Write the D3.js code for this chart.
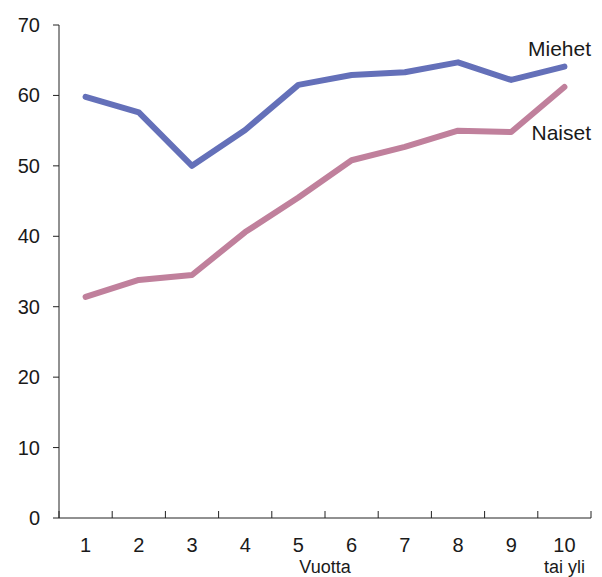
<!DOCTYPE html>
<html>
<head>
<meta charset="utf-8">
<script src="https://cdn.jsdelivr.net/npm/d3@7"></script>
<style>
  body { margin: 0; background: #fff; }
  text { font-family: "Liberation Sans", Arial, sans-serif; fill: #1a1a1a; }
</style>
</head>
<body>
<div id="chart"></div>
<script>
// Years 1..10 (10 = "10 tai yli")
const years = ['1', '2', '3', '4', '5', '6', '7', '8', '9', '10'];
const miehet = [59.8, 57.6, 50.0, 55.1, 61.5, 62.9, 63.3, 64.7, 62.2, 64.1];
const naiset = [31.4, 33.8, 34.5, 40.6, 45.5, 50.8, 52.7, 55.0, 54.8, 61.2];
const yTicks = [0, 10, 20, 30, 40, 50, 60, 70];

const W = 602, H = 577;
const plotL = 59, plotR = 591, plotT = 25, plotB = 518;

const svg = d3.select('#chart').append('svg')
  .attr('width', W).attr('height', H);

const x = d3.scaleBand().domain(years).range([plotL, plotR]);
const y = d3.scaleLinear().domain([0, 70]).range([plotB, plotT]);

// y axis
svg.append('line')
  .attr('x1', plotL).attr('x2', plotL)
  .attr('y1', y(70)).attr('y2', y(0))
  .attr('stroke', '#222').attr('stroke-width', 1);

svg.selectAll('line.ytick')
  .data(yTicks)
  .join('line')
  .attr('class', 'ytick')
  .attr('x1', plotL - 6).attr('x2', plotL)
  .attr('y1', d => y(d)).attr('y2', d => y(d))
  .attr('stroke', '#222');

svg.selectAll('text.ylab')
  .data(yTicks)
  .join('text')
  .attr('class', 'ylab')
  .attr('x', 40)
  .attr('y', d => y(d))
  .attr('dy', '0.35em')
  .attr('text-anchor', 'end')
  .attr('font-size', '20px')
  .text(d => d);

// x axis
svg.append('line')
  .attr('x1', plotL).attr('x2', plotR)
  .attr('y1', y(0)).attr('y2', y(0))
  .attr('stroke', '#222');

const xTickPos = years.map(d => x(d)).concat([plotR]);
svg.selectAll('line.xtick')
  .data(xTickPos)
  .join('line')
  .attr('class', 'xtick')
  .attr('x1', d => d).attr('x2', d => d)
  .attr('y1', y(0)).attr('y2', y(0) - 7)
  .attr('stroke', '#222');

svg.selectAll('text.xlab')
  .data(years)
  .join('text')
  .attr('class', 'xlab')
  .attr('x', d => x(d) + x.bandwidth() / 2)
  .attr('y', 552)
  .attr('text-anchor', 'middle')
  .attr('font-size', '20px')
  .text(d => d);

svg.append('text')
  .attr('x', x('5') + x.bandwidth())
  .attr('y', 573)
  .attr('text-anchor', 'middle')
  .attr('font-size', '18px')
  .text('Vuotta');

svg.append('text')
  .attr('x', x('10') + x.bandwidth() / 2)
  .attr('y', 573)
  .attr('text-anchor', 'middle')
  .attr('font-size', '18px')
  .text('tai yli');

// lines
const line = d3.line()
  .x((d, i) => x(years[i]) + x.bandwidth() / 2)
  .y(d => y(d));

svg.append('path')
  .datum(naiset)
  .attr('d', line)
  .attr('fill', 'none')
  .attr('stroke', '#c0809c')
  .attr('stroke-width', 6)
  .attr('stroke-linejoin', 'round')
  .attr('stroke-linecap', 'round');

svg.append('path')
  .datum(miehet)
  .attr('d', line)
  .attr('fill', 'none')
  .attr('stroke', '#6470b9')
  .attr('stroke-width', 6)
  .attr('stroke-linejoin', 'round')
  .attr('stroke-linecap', 'round');

// series labels
svg.append('text')
  .attr('x', 591).attr('y', 56)
  .attr('text-anchor', 'end')
  .attr('font-size', '21px')
  .text('Miehet');

svg.append('text')
  .attr('x', 591).attr('y', 140)
  .attr('text-anchor', 'end')
  .attr('font-size', '21px')
  .text('Naiset');
</script>
</body>
</html>
